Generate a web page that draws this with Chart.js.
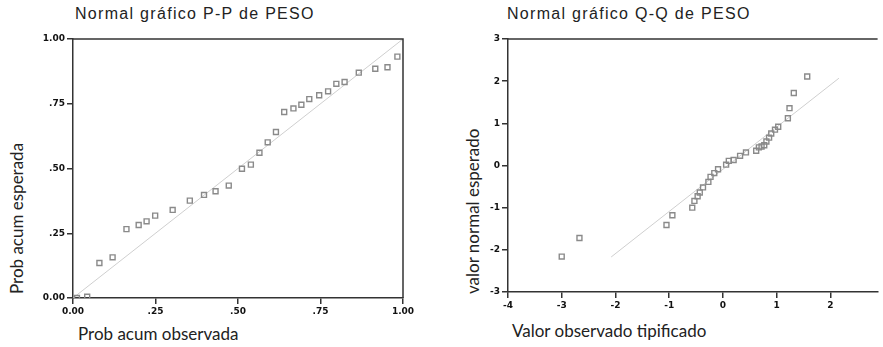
<!DOCTYPE html>
<html>
<head>
<meta charset="utf-8">
<script src="https://cdn.jsdelivr.net/npm/chart.js@4.4.1/dist/chart.umd.min.js"></script>
<style>
  body { margin: 0; width: 883px; height: 347px; background: #fff; position: relative; overflow: hidden; }
  .box { position: absolute; }
  .title { position: absolute; font-family: "Liberation Sans", Arial, sans-serif; font-size: 16px; letter-spacing: 1.3px; color: #222; white-space: nowrap; }
  .axt { position: absolute; font-family: Lato, "Open Sans", sans-serif; font-size: 17px; color: #222; white-space: nowrap; }
  .vert { transform-origin: 0 0; transform: rotate(-90deg); }
</style>
</head>
<body>
<div class="title" style="left:75px; top:5px;">Normal gráfico P-P de PESO</div>
<div class="title" style="left:507px; top:5px;">Normal gráfico Q-Q de PESO</div>
<div class="axt" style="left:78px; top:323px;">Prob acum observada</div>
<div class="axt vert" style="left:6px; top:294px;">Prob acum esperada</div>
<div class="axt" style="left:512px; top:320px;">Valor observado tipificado</div>
<div class="axt vert" style="left:462px; top:294px;">valor normal esperado</div>

<div class="box" style="left:0; top:0; width:420px; height:320px;"><canvas id="pp"></canvas></div>
<div class="box" style="left:440px; top:0; width:443px; height:320px;"><canvas id="qq"></canvas></div>

<script>
// P-P plot
const ppObserved = [0.012, 0.043, 0.080, 0.120, 0.162, 0.199, 0.223, 0.249, 0.302, 0.354,
  0.397, 0.432, 0.472, 0.512, 0.539, 0.565, 0.590, 0.615, 0.640, 0.668,
  0.692, 0.716, 0.746, 0.773, 0.798, 0.823, 0.866, 0.916, 0.953, 0.983];
const ppExpected = [0.000, 0.005, 0.135, 0.157, 0.266, 0.282, 0.296, 0.318, 0.340, 0.376,
  0.398, 0.412, 0.434, 0.499, 0.515, 0.561, 0.601, 0.641, 0.718, 0.732,
  0.746, 0.768, 0.783, 0.798, 0.827, 0.834, 0.870, 0.885, 0.891, 0.932];
const ppLineX = [0, 1];
const ppLineY = [0, 1];
const ppTicks = [0, 0.25, 0.5, 0.75, 1];
const ppTickLabels = ['0.00', '.25', '.50', '.75', '1.00'];

// Q-Q plot
const qqObserved = [-3.00, -2.67, -1.05, -0.94, -0.57, -0.53, -0.47, -0.43, -0.37, -0.27,
  -0.23, -0.16, -0.09, 0.06, 0.11, 0.20, 0.32, 0.43, 0.62, 0.67,
  0.72, 0.77, 0.81, 0.86, 0.90, 0.97, 1.03, 1.21, 1.24, 1.32, 1.57];
const qqExpected = [-2.16, -1.72, -1.41, -1.18, -1.00, -0.84, -0.73, -0.64, -0.52, -0.39,
  -0.27, -0.18, -0.09, 0.02, 0.11, 0.13, 0.23, 0.31, 0.35, 0.43,
  0.45, 0.48, 0.57, 0.66, 0.76, 0.85, 0.92, 1.12, 1.36, 1.72, 2.11];
const qqLineX = [-2.08, 2.16];
const qqLineY = [-2.17, 2.07];
const qqXTicks = [-4, -3, -2, -1, 0, 1, 2];
const qqYTicks = [-3, -2, -1, 0, 1, 2, 3];

const pts = (xs, ys) => xs.map((x, i) => ({ x: x, y: ys[i] }));

// top / right edge of the plot frame
const frame = {
  id: 'frame',
  afterDraw(chart, args, opts) {
    const { ctx, chartArea: a } = chart;
    ctx.save();
    ctx.strokeStyle = '#333';
    ctx.lineWidth = 1.5;
    ctx.beginPath();
    ctx.moveTo(a.left, a.top);
    ctx.lineTo(a.right, a.top);
    if (opts.right) ctx.lineTo(a.right, a.bottom);
    ctx.stroke();
    ctx.restore();
  }
};

const tickFont = { family: 'DejaVu Sans', size: 9, weight: 'bold' };

function axis(min, max, ticks, labels, size, isX) {
  return {
    type: 'linear',
    min: min,
    max: max,
    afterBuildTicks: (s) => { s.ticks = ticks.map(v => ({ value: v })); },
    afterFit: (s) => { if (isX) s.height = size; else s.width = size; },
    grid: { drawOnChartArea: false, drawTicks: true, tickLength: 6, color: '#333', lineWidth: 1.5 },
    border: { display: true, color: '#333', width: 1.5 },
    ticks: {
      color: '#111',
      font: tickFont,
      padding: 2,
      maxRotation: 0,
      autoSkip: false,
      callback: (v) => labels ? labels[ticks.indexOf(v)] : String(v)
    }
  };
}

const markerStyle = {
  showLine: false,
  pointStyle: 'rect',
  pointRadius: 3.5,
  pointBorderWidth: 1.4,
  pointBorderColor: '#8a8a8a',
  pointBackgroundColor: 'rgba(255,255,255,0)'
};

const lineStyle = {
  showLine: true,
  borderColor: '#cfcfcf',
  borderWidth: 1,
  pointRadius: 0,
  order: 2
};

new Chart(document.getElementById('pp'), {
  type: 'scatter',
  data: {
    datasets: [
      Object.assign({ label: 'ref', data: pts(ppLineX, ppLineY) }, lineStyle),
      Object.assign({ label: 'PESO', data: pts(ppObserved, ppExpected), order: 1 }, markerStyle)
    ]
  },
  options: {
    responsive: true,
    maintainAspectRatio: false,
    animation: false,
    layout: { padding: { top: 39, right: 17, left: 0, bottom: 0 } },
    plugins: { legend: { display: false }, tooltip: { enabled: false }, frame: { right: true } },
    scales: {
      x: axis(0, 1, ppTicks, ppTickLabels, 22, true),
      y: axis(0, 1, ppTicks, ppTickLabels, 73, false)
    }
  },
  plugins: [frame]
});

new Chart(document.getElementById('qq'), {
  type: 'scatter',
  data: {
    datasets: [
      Object.assign({ label: 'ref', data: pts(qqLineX, qqLineY) }, lineStyle),
      Object.assign({ label: 'PESO', data: pts(qqObserved, qqExpected), order: 1 }, markerStyle)
    ]
  },
  options: {
    responsive: true,
    maintainAspectRatio: false,
    animation: false,
    layout: { padding: { top: 39, right: 0, left: 0, bottom: 0 } },
    plugins: { legend: { display: false }, tooltip: { enabled: false }, frame: { right: false } },
    scales: {
      x: axis(-4, 2.88, qqXTicks, null, 28, true),
      y: axis(-3, 3, qqYTicks, null, 68, false)
    }
  },
  plugins: [frame]
});
</script>
</body>
</html>
